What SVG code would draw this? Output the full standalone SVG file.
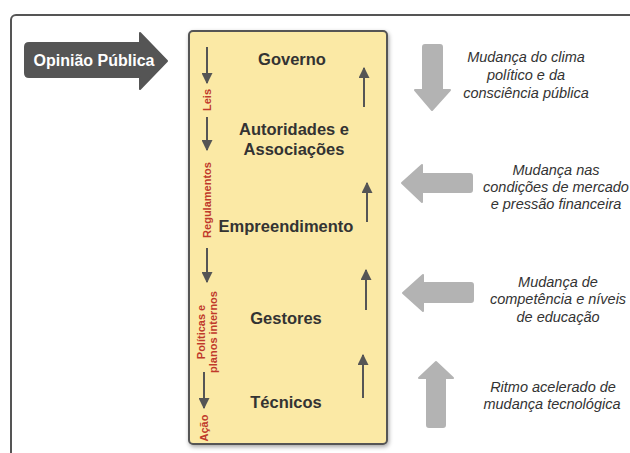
<svg xmlns="http://www.w3.org/2000/svg" width="630" height="453" viewBox="0 0 630 453">
<defs>
<marker id="ah" viewBox="0 0 10 10" refX="9" refY="5" markerWidth="5.5" markerHeight="5.5" orient="auto" markerUnits="strokeWidth">
<path d="M0,0 L10,5 L0,10 Z" fill="#555"/>
</marker>
<filter id="sh" x="-10%" y="-10%" width="130%" height="130%">
<feDropShadow dx="1" dy="2" stdDeviation="2" flood-color="#000" flood-opacity="0.35"/>
</filter>
</defs>
<style>
.lvl{font-family:"Liberation Sans",Arial,sans-serif;font-weight:bold;font-size:16.5px;fill:#333;text-anchor:middle}
.side{font-family:"Liberation Sans",Arial,sans-serif;font-weight:bold;font-size:11px;fill:#c0392b;text-anchor:middle}
.note{font-family:"Liberation Sans",Arial,sans-serif;font-style:italic;font-size:14.5px;fill:#333;text-anchor:middle}
.flow{stroke:#555;stroke-width:2;fill:none;marker-end:url(#ah)}
.big{fill:#b3b3b3}
</style>
<rect width="630" height="453" fill="#fff"/>
<rect id="frame" x="11" y="15" width="640" height="460" rx="5" fill="#fff" stroke="#555" stroke-width="2"/>
<g id="opiniao">
<path d="M29,43 H140 V33 L167,61 L140,89 V77 H29 Q25,77 25,73 V47 Q25,43 29,43 Z" fill="#555" stroke="#555" stroke-width="2" stroke-linejoin="round"/>
<text x="94" y="66" font-family="Liberation Sans,Arial,sans-serif" font-weight="bold" font-size="16" fill="#fff" text-anchor="middle">Opinião Pública</text>
</g>
<g id="hierarquia">
<rect x="189" y="31" width="198" height="413" rx="4" fill="#fbe9a5" stroke="#555" stroke-width="2" filter="url(#sh)"/>
</g>
<g id="governo"><text class="lvl" x="292" y="65">Governo</text></g>
<g id="autoridades"><text class="lvl" x="294" y="135">Autoridades e</text><text class="lvl" x="294" y="155">Associações</text></g>
<g id="empreendimento"><text class="lvl" x="286" y="232">Empreendimento</text></g>
<g id="gestores"><text class="lvl" x="286" y="324">Gestores</text></g>
<g id="tecnicos"><text class="lvl" x="286" y="408">Técnicos</text></g>
<g id="rotulos">
<text class="side" transform="translate(211,100) rotate(-90)">Leis</text>
<text class="side" transform="translate(211,200) rotate(-90)">Regulamentos</text>
<text class="side" transform="translate(205,332) rotate(-90)">Políticas e</text>
<text class="side" transform="translate(217,332) rotate(-90)">planos internos</text>
<text class="side" transform="translate(208,428) rotate(-90)">Ação</text>
</g>
<g id="conectores">
<line class="flow" x1="207" y1="47" x2="207" y2="83"/>
<line class="flow" x1="207" y1="117" x2="207" y2="150"/>
<line class="flow" x1="207" y1="248" x2="207" y2="282"/>
<line class="flow" x1="204" y1="372" x2="204" y2="408"/>
<line class="flow" x1="364" y1="107" x2="364" y2="68"/>
<line class="flow" x1="367" y1="222" x2="367" y2="183"/>
<line class="flow" x1="366" y1="310" x2="366" y2="270"/>
<line class="flow" x1="363" y1="398" x2="363" y2="355"/>
</g>
<g id="forca-clima">
<path class="big" d="M425,45 H440 Q442,45 442,47 V90 H450 L432,110 L415,90 H423 V47 Q423,45 425,45 Z" stroke="#b3b3b3" stroke-width="2" stroke-linejoin="round"/>
<text class="note" x="526" y="62">Mudança do clima</text>
<text class="note" x="526" y="80">político e da</text>
<text class="note" x="526" y="98">consciência pública</text>
</g>
<g id="forca-mercado">
<path class="big" d="M472,176 V190 Q472,192 470,192 H422 V202 L402,183 L422,165 V174 H470 Q472,174 472,176 Z" stroke="#b3b3b3" stroke-width="2" stroke-linejoin="round"/>
<text class="note" x="556" y="175">Mudança nas</text>
<text class="note" x="556" y="192">condições de mercado</text>
<text class="note" x="556" y="209">e pressão financeira</text>
</g>
<g id="forca-educacao">
<path class="big" d="M473,285 V300 Q473,302 471,302 H423 V311 L403,293 L423,275 V283 H471 Q473,283 473,285 Z" stroke="#b3b3b3" stroke-width="2" stroke-linejoin="round"/>
<text class="note" x="558" y="287">Mudança de</text>
<text class="note" x="558" y="304">competência e níveis</text>
<text class="note" x="558" y="322">de educação</text>
</g>
<g id="forca-tecnologia">
<path class="big" d="M427,425 V378 H419 L436,362 L453,378 H445 V425 Q445,427 443,427 H429 Q427,427 427,425 Z" stroke="#b3b3b3" stroke-width="2" stroke-linejoin="round"/>
<text class="note" x="553" y="392">Ritmo acelerado de</text>
<text class="note" x="552" y="409">mudança tecnológica</text>
</g>
</svg>
